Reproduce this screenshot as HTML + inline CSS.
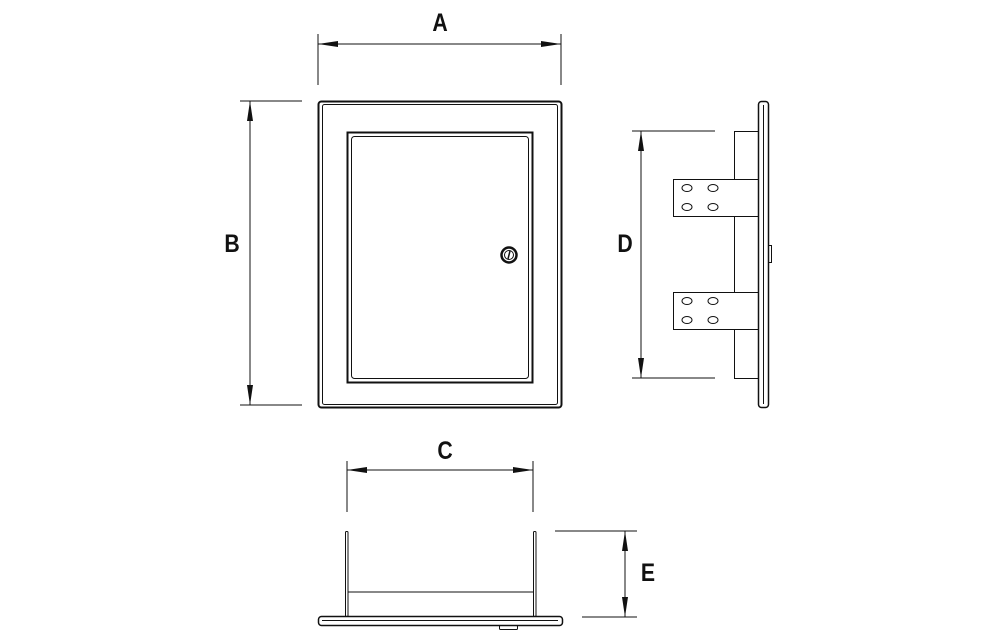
<!DOCTYPE html>
<html><head><meta charset="utf-8"><style>
html,body{margin:0;padding:0;background:#fff;}
svg{display:block;}
text{font-family:"Liberation Sans",sans-serif;font-size:25px;font-weight:bold;fill:#111;}
</style></head><body>
<svg width="999" height="634" viewBox="0 0 999 634" xmlns="http://www.w3.org/2000/svg">
<defs>
<marker id="ar" viewBox="0 0 20 8" refX="20" refY="4" markerWidth="20" markerHeight="8" markerUnits="userSpaceOnUse" orient="auto-start-reverse">
<path d="M0,1 L20,4 L0,7 z" fill="#111"/>
</marker>
</defs>
<g stroke="#111" fill="none" stroke-width="1">
<line x1="318" y1="34" x2="318" y2="85"/>
<line x1="561" y1="34" x2="561" y2="85"/>
<line x1="318" y1="44" x2="561" y2="44" marker-start="url(#ar)" marker-end="url(#ar)"/>
<line x1="240" y1="101" x2="302" y2="101"/>
<line x1="240" y1="405" x2="302" y2="405"/>
<line x1="250" y1="101" x2="250" y2="405" marker-start="url(#ar)" marker-end="url(#ar)"/>
<rect x="318.5" y="101.5" width="243" height="306" rx="3" stroke-width="2"/>
<rect x="322.5" y="104.5" width="235" height="300" rx="2"/>
<rect x="347.5" y="132.5" width="185" height="250" stroke-width="2"/>
<rect x="351.5" y="136.5" width="177" height="242" rx="3"/>
<circle cx="509" cy="255" r="7.5" stroke-width="2.5"/>
<circle cx="509" cy="255" r="4.5"/>
<line x1="510" y1="251" x2="508" y2="259" stroke-width="1.5"/>
<line x1="632" y1="131" x2="715" y2="131"/>
<line x1="632" y1="378" x2="715" y2="378"/>
<line x1="641" y1="131" x2="641" y2="378" marker-start="url(#ar)" marker-end="url(#ar)"/>
<rect x="734.5" y="131.5" width="24" height="247"/>
<rect x="673.5" y="179.5" width="85" height="37" fill="#fff"/>
<rect x="673.5" y="292.5" width="85" height="37" fill="#fff"/>
<rect x="758.5" y="101.5" width="10" height="306" rx="3" fill="#fff" stroke-width="1.5"/>
<line x1="763.5" y1="105" x2="763.5" y2="404"/>
<rect x="768.5" y="245.5" width="3" height="17"/>
<ellipse cx="687" cy="188" rx="5" ry="3.5"/><ellipse cx="713" cy="188" rx="5" ry="3.5"/>
<ellipse cx="687" cy="207" rx="5" ry="3.5"/><ellipse cx="713" cy="207" rx="5" ry="3.5"/>
<ellipse cx="687" cy="301" rx="5" ry="3.5"/><ellipse cx="713" cy="301" rx="5" ry="3.5"/>
<ellipse cx="687" cy="320" rx="5" ry="3.5"/><ellipse cx="713" cy="320" rx="5" ry="3.5"/>
<line x1="347" y1="461" x2="347" y2="512"/>
<line x1="533" y1="461" x2="533" y2="512"/>
<line x1="347" y1="470" x2="533" y2="470" marker-start="url(#ar)" marker-end="url(#ar)"/>
<rect x="345.5" y="531.5" width="2.5" height="85" rx="1"/>
<rect x="533.5" y="531.5" width="2.5" height="85" rx="1"/>
<line x1="348" y1="592" x2="533" y2="592"/>
<rect x="318.5" y="616.5" width="244" height="9" rx="3" fill="#fff" stroke-width="1.5"/>
<line x1="322" y1="620.5" x2="558" y2="620.5"/>
<rect x="499.5" y="625.5" width="18" height="4" rx="1"/>
<line x1="555" y1="531" x2="637" y2="531"/>
<line x1="582" y1="617" x2="637" y2="617"/>
<line x1="625" y1="531" x2="625" y2="617" marker-start="url(#ar)" marker-end="url(#ar)"/>
</g>
<text x="440" y="31" text-anchor="middle" transform="translate(440 0) scale(0.85 1) translate(-440 0)">A</text>
<text x="232" y="252" text-anchor="middle" transform="translate(232 0) scale(0.85 1) translate(-232 0)">B</text>
<text x="625" y="252" text-anchor="middle" transform="translate(625 0) scale(0.85 1) translate(-625 0)">D</text>
<text x="445" y="459" text-anchor="middle" transform="translate(445 0) scale(0.85 1) translate(-445 0)">C</text>
<text x="648" y="581" text-anchor="middle" transform="translate(648 0) scale(0.85 1) translate(-648 0)">E</text>
</svg>
</body></html>
